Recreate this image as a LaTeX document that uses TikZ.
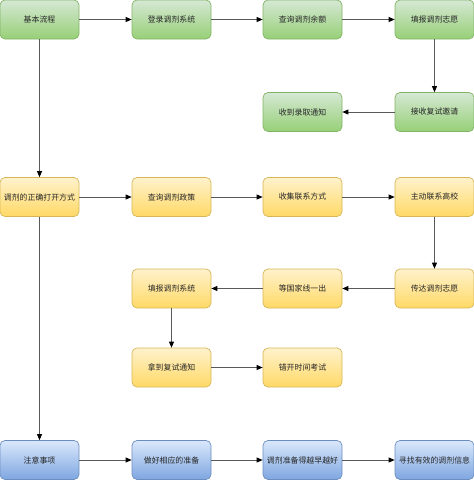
\documentclass[tikz,border=0pt]{standalone}
\usepackage{fontspec}
\setmainfont{Noto Sans CJK SC}
\usetikzlibrary{arrows.meta}
\definecolor{grnTop}{HTML}{D5E8D4}
\definecolor{grnBot}{HTML}{97D077}
\definecolor{grnLine}{HTML}{82B366}
\definecolor{ylwTop}{HTML}{FFF2CC}
\definecolor{ylwBot}{HTML}{FFD966}
\definecolor{ylwLine}{HTML}{D6B656}
\definecolor{bluTop}{HTML}{DAE8FC}
\definecolor{bluBot}{HTML}{7EA6E0}
\definecolor{bluLine}{HTML}{6C8EBF}

\begin{document}
\begin{tikzpicture}[x=1pt,y=-1pt,
  box/.style={rounded corners=5pt,line width=0.7pt,minimum width=79pt,minimum height=39pt,
    inner sep=1pt,text=black!85,font=\fontsize{7.9}{9}\selectfont},
  gbox/.style={box,draw=grnLine,top color=grnTop,bottom color=grnBot},
  ybox/.style={box,draw=ylwLine,top color=ylwTop,bottom color=ylwBot},
  bbox/.style={box,draw=bluLine,top color=bluTop,bottom color=bluBot},
  flow/.style={draw=black!65,line width=0.8pt,-{Triangle[length=6pt,width=5pt,color=black]}}]
\useasboundingbox (0,0) rectangle (474,480);

%% first row: basic flow
\node[gbox] (basic) at (39.5,19.5) {基本流程};
\node[gbox] (login) at (171.5,19.5) {登录调剂系统};
\node[gbox] (quota) at (302.5,19.5) {查询调剂余额};
\node[gbox] (wish) at (434.5,19.5) {填报调剂志愿};
\node[gbox] (invite) at (434.5,112) {接收复试邀请};
\node[gbox] (admit) at (302.5,112) {收到录取通知};

%% middle rows: the right way
\node[ybox] (way) at (39.5,197) {调剂的正确打开方式};
\node[ybox] (policy) at (171.5,197) {查询调剂政策};
\node[ybox] (contact) at (302.5,197) {收集联系方式};
\node[ybox] (school) at (434.5,197) {主动联系高校};
\node[ybox] (convey) at (434.5,288.5) {传达调剂志愿};
\node[ybox] (line) at (302.5,288.5) {等国家线一出};
\node[ybox] (system) at (171.5,288.5) {填报调剂系统};
\node[ybox] (retest) at (171.5,367.5) {拿到复试通知};
\node[ybox] (stagger) at (302.5,367.5) {错开时间考试};

%% last row: notes
\node[bbox] (notes) at (39.5,460) {注意事项};
\node[bbox] (prepare) at (171.5,460) {做好相应的准备};
\node[bbox] (early) at (302.5,460) {调剂准备得越早越好};
\node[bbox] (info) at (434.5,460) {寻找有效的调剂信息};

\draw[flow] (basic) -- (login);
\draw[flow] (login) -- (quota);
\draw[flow] (quota) -- (wish);
\draw[flow] (wish) -- (invite);
\draw[flow] (invite) -- (admit);
\draw[flow] (basic) -- (way);

\draw[flow] (way) -- (policy);
\draw[flow] (policy) -- (contact);
\draw[flow] (contact) -- (school);
\draw[flow] (school) -- (convey);
\draw[flow] (convey) -- (line);
\draw[flow] (line) -- (system);
\draw[flow] (system) -- (retest);
\draw[flow] (retest) -- (stagger);
\draw[flow] (way) -- (notes);

\draw[flow] (notes) -- (prepare);
\draw[flow] (prepare) -- (early);
\draw[flow] (early) -- (info);
\end{tikzpicture}
\end{document}
